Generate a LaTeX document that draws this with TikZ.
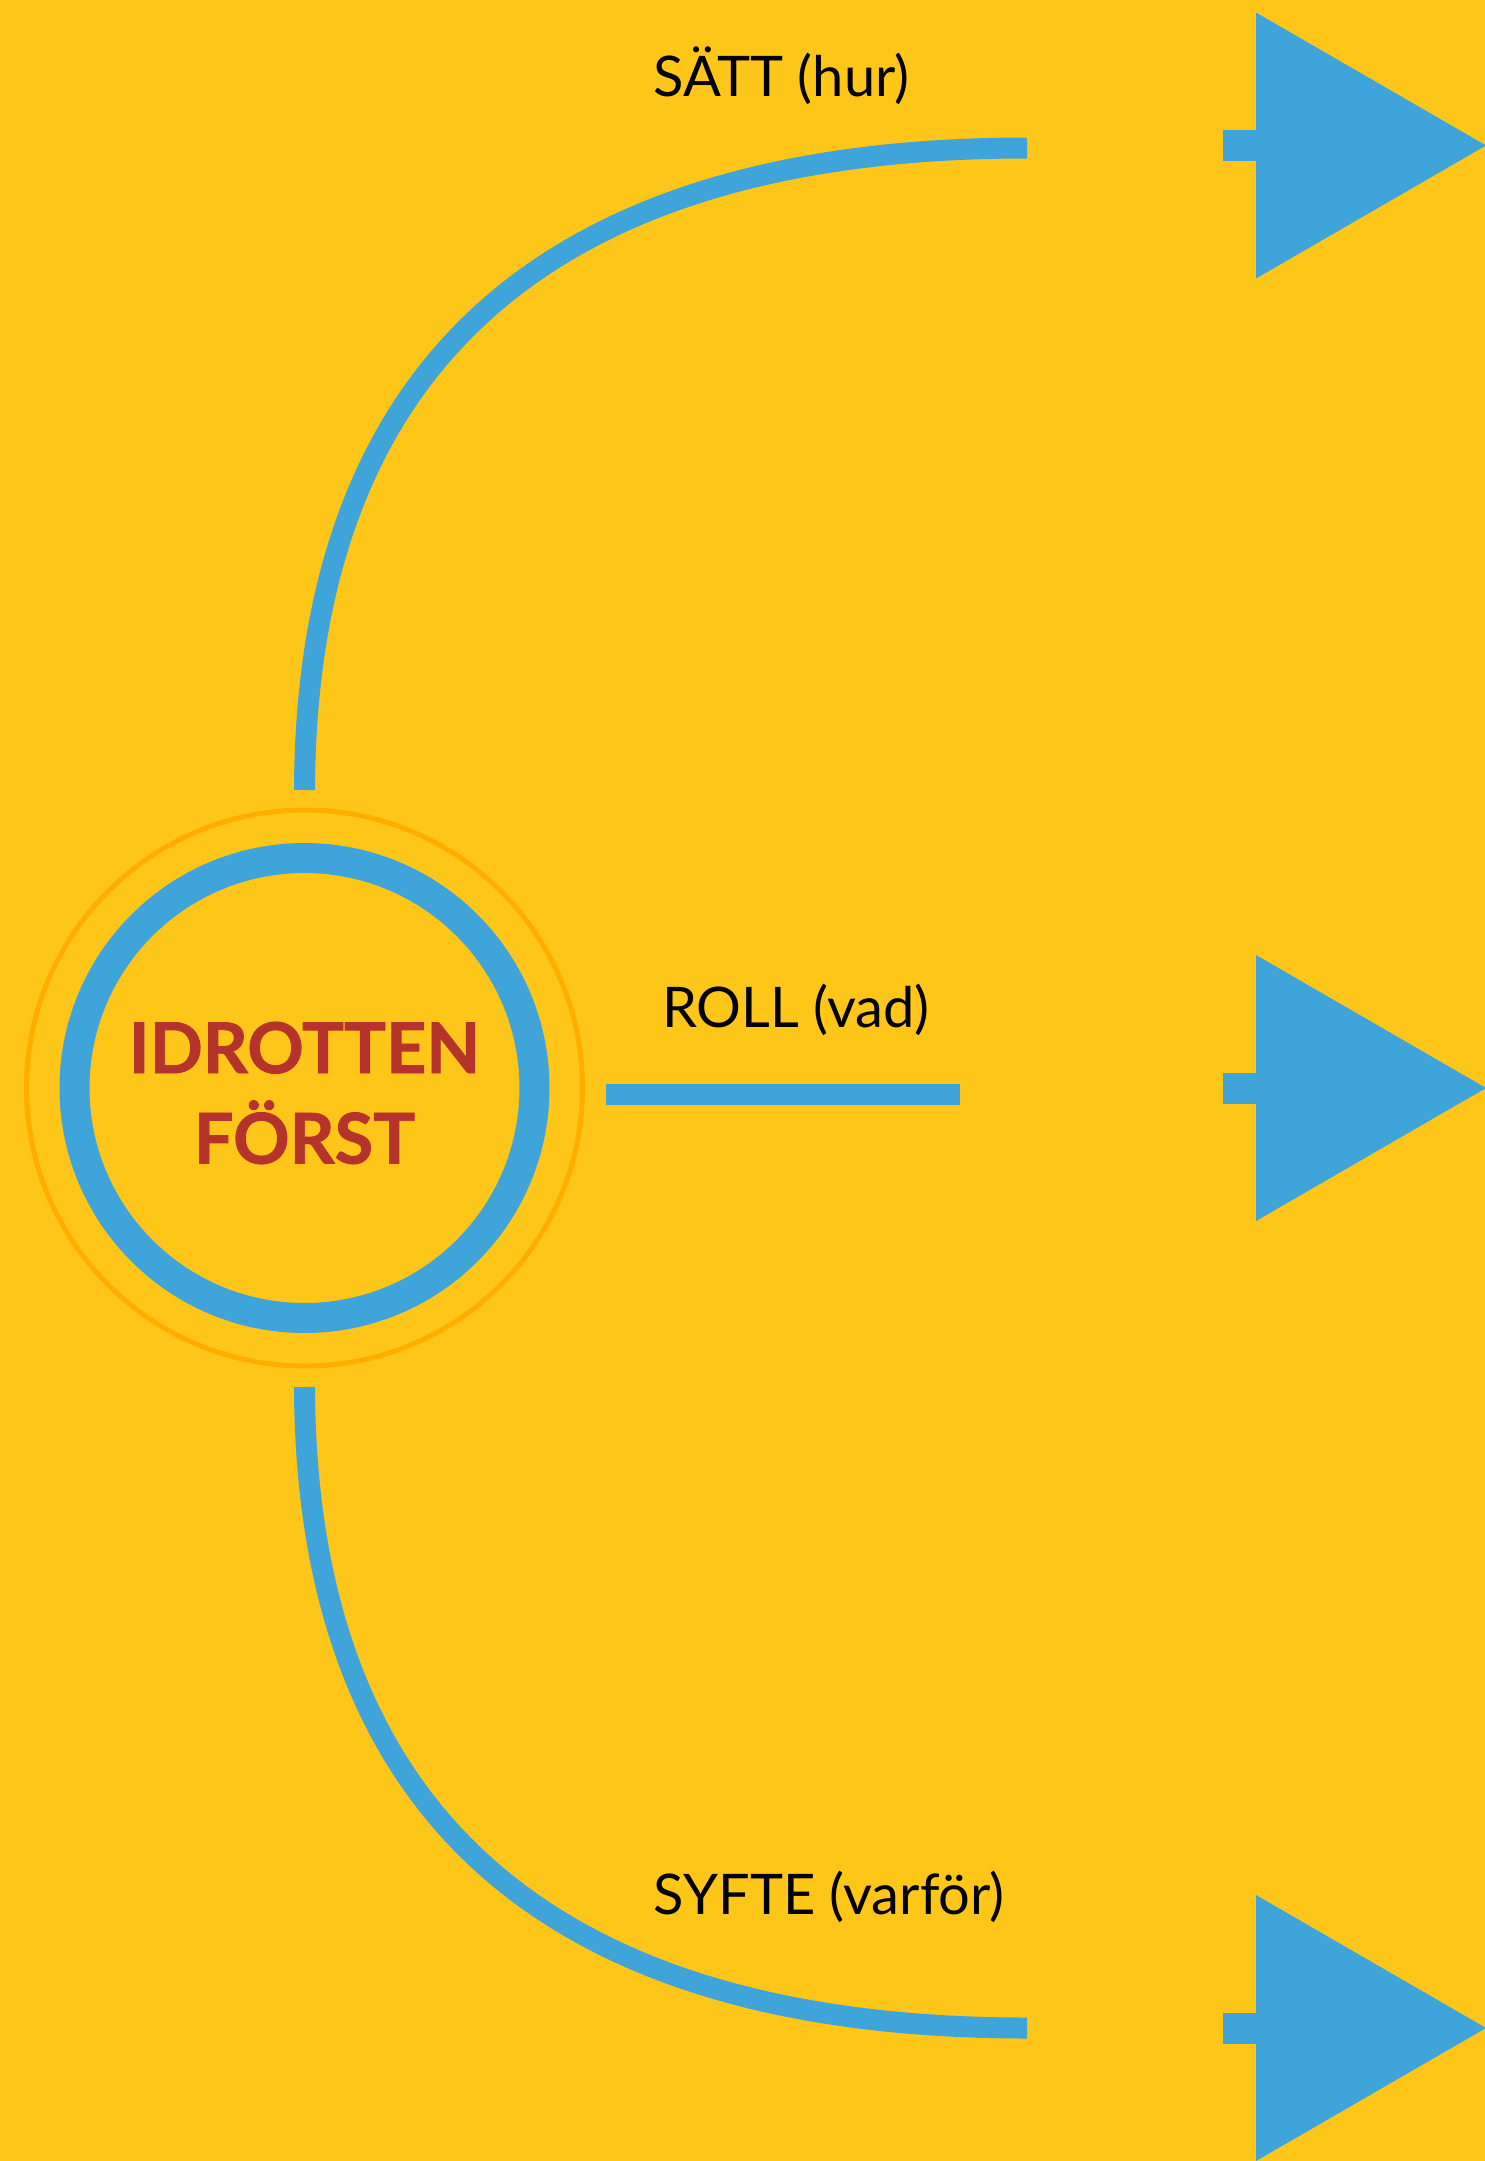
\documentclass[tikz,border=0pt]{standalone}
\usepackage{fontspec}
\setmainfont{Lato}
\newfontfamily\titlefont[BoldFeatures={FakeBold=1.2}]{Lato}
\definecolor{bgyellow}{RGB}{255,198,26}
\definecolor{lineblue}{RGB}{62,164,217}
\definecolor{ringorange}{RGB}{255,174,0}
\definecolor{titlered}{RGB}{181,51,43}
\begin{document}
\begin{tikzpicture}[x=1pt,y=-1pt,
  connector/.style={draw=lineblue,line width=21pt},
  labeltext/.style={anchor=base west,inner sep=0pt,font=\fontsize{56}{60}\selectfont,text=black},
  arrowhead/.style={fill=lineblue},
]
\useasboundingbox (0,0) rectangle (1485,2161);
\fill[bgyellow] (0,0) rectangle (1485,2161);

% hub circle
\node[circle,minimum size=556pt,inner sep=0pt,draw=ringorange,line width=5pt] (hub) at (304.5,1088) {};
\draw[lineblue,line width=30pt] (hub.center) circle[radius=230];
\node[align=center,inner sep=0pt,text=titlered,font=\titlefont\fontsize{70}{90.5}\selectfont\bfseries] (title) at (304.5,1093) {IDROTTEN\\FÖRST};

% connector end coordinates
\coordinate (topstart) at (304.5,790);
\coordinate (topend) at (1027,148);
\coordinate (midstart) at (606,1094.5);
\coordinate (midend) at (959.5,1094.5);
\coordinate (botstart) at (304.5,1387);
\coordinate (botend) at (1027,2028);

% arrowheads (triangles with stub)
\coordinate (arrTop) at (1256,145.5);
\coordinate (arrMid) at (1256,1088);
\coordinate (arrBot) at (1256,2028);
\foreach \a in {arrTop,arrMid,arrBot}{
  \fill[arrowhead] ([yshift=-133]\a) -- ([yshift=133]\a) -- ([xshift=230]\a) -- cycle;
  \fill[arrowhead] ([xshift=-33,yshift=-15.5]\a) rectangle ([xshift=1,yshift=15.5]\a);
}

% connectors
\draw[connector] (topstart) .. controls (306,365) and (547,148) .. (topend);
\draw[connector] (midstart) -- (midend);
\draw[connector] (botstart) .. controls (306,1812) and (547,2028) .. (botend);

% labels
\node[labeltext] (satt) at (653.6,96.7) {SÄTT (hur)};
\node[labeltext] (roll) at (662,1027) {ROLL (vad)};
\node[labeltext] (syfte) at (653.6,1914) {SYFTE (varför)};
\end{tikzpicture}
\end{document}
